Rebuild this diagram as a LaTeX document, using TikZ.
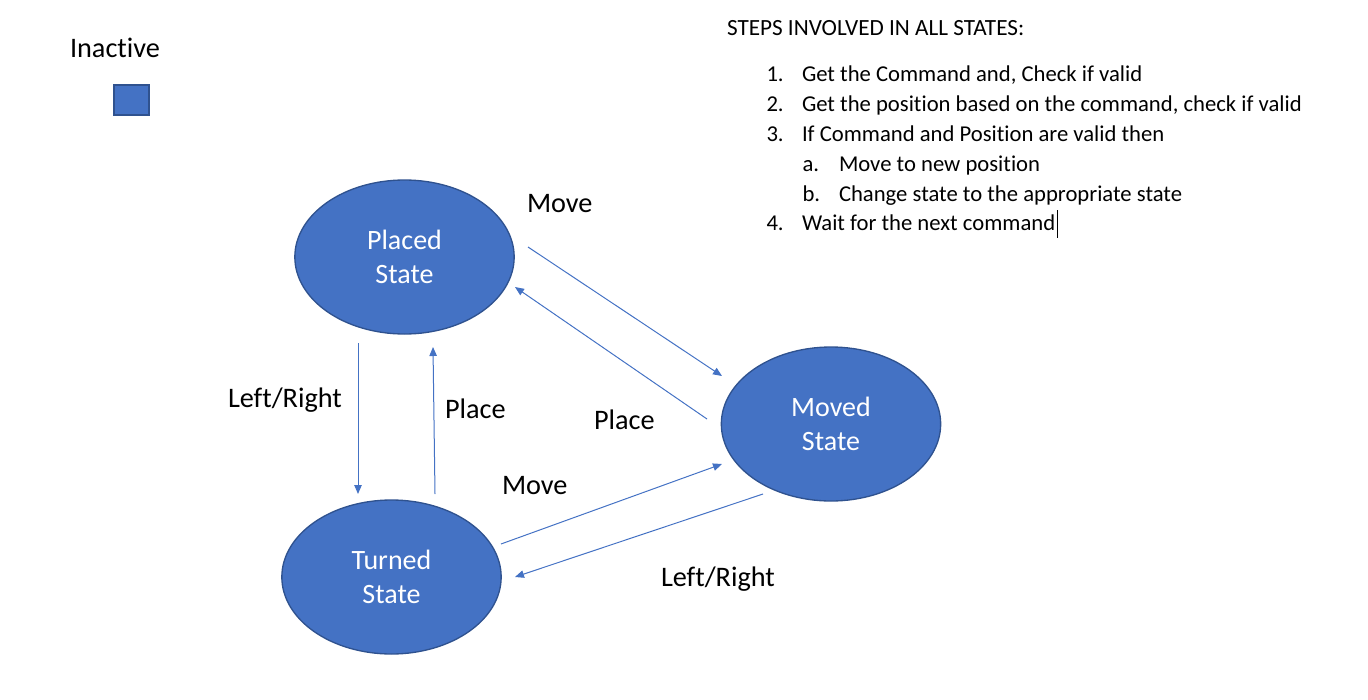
\documentclass[tikz,border=0pt]{standalone}
\usepackage{fontspec}
\setmainfont[Ligatures={NoCommon}]{Carlito}
\usetikzlibrary{shapes.geometric,arrows.meta}
\definecolor{obl}{HTML}{4472C4}
\definecolor{obd}{HTML}{2F528F}
\begin{document}
\begin{tikzpicture}[x=0.75pt,y=-0.75pt,
  statenode/.style={ellipse, draw=obd, line width=1pt, fill=obl, text=white,
    minimum width=164.5pt, minimum height=115.5pt, inner sep=0pt, outer sep=0pt,
    align=center, font=\fontsize{21}{25.5}\selectfont},
  lbl/.style={anchor=base west, inner sep=0pt, outer sep=0pt, font=\fontsize{21.2}{25.5}\selectfont},
  steptxt/.style={anchor=base west, inner sep=0pt, outer sep=0pt, font=\fontsize{17}{20}\selectfont},
  arr/.style={draw=obl, line width=0.75pt, -{Triangle[length=6.75pt,width=5.6pt]}}
]
\useasboundingbox (0,0) rectangle (1368,700);

% legend
\node[lbl] (inact) at (70,57) {Inactive};
\node[draw=obd, fill=obl, line width=1.1pt, minimum width=26pt, minimum height=22.5pt, inner sep=0pt] (sq) at (131.5,100) {};

% states
\node[statenode] (p) at (404.5,257) {Placed\\State};
\node[statenode] (m) at (831,424) {Moved\\State};
\node[statenode] (t) at (391.5,577) {Turned\\State};

% connector end points
\coordinate (pm1) at (528,247);  \coordinate (pm2) at (722,376);
\coordinate (mp1) at (707,419);  \coordinate (mp2) at (515,287);
\coordinate (pt1) at (358,343);  \coordinate (pt2) at (358,494);
\coordinate (tp1) at (435,494);  \coordinate (tp2) at (433,347);
\coordinate (tm1) at (501,544);  \coordinate (tm2) at (722,464);
\coordinate (mt1) at (763,494);  \coordinate (mt2) at (515,577);

\draw[arr] (pm1) -- (pm2);
\draw[arr] (mp1) -- (mp2);
\draw[arr] (pt1) -- (pt2);
\draw[arr] (tp1) -- (tp2);
\draw[arr] (tm1) -- (tm2);
\draw[arr] (mt1) -- (mt2);

% connector labels
\node[lbl] (l1) at (527,212) {Move};
\node[lbl] (l2) at (228,407) {Left/Right};
\node[lbl] (l3) at (445,418) {Place};
\node[lbl] (l4) at (594,429) {Place};
\node[lbl] (l5) at (502,494) {Move};
\node[lbl] (l6) at (661,586) {Left/Right};

% steps
\node[steptxt, font=\fontsize{17.4}{20}\selectfont] (hd) at (727,35.5) {STEPS INVOLVED IN ALL STATES:};
\node[steptxt] (n1) at (766.5,81.3) {1.};
\node[steptxt] (s1) at (802,81.3) {Get the Command and, Check if valid};
\node[steptxt] (n2) at (766.5,111) {2.};
\node[steptxt] (s2) at (802,111) {Get the position based on the command, check if valid};
\node[steptxt] (n3) at (766.5,141) {3.};
\node[steptxt] (s3) at (802,141) {If Command and Position are valid then};
\node[steptxt] (na) at (802.5,171) {a.};
\node[steptxt] (sa) at (839,171) {Move to new position};
\node[steptxt] (nb) at (802.5,201) {b.};
\node[steptxt] (sb) at (839,201) {Change state to the appropriate state};
\node[steptxt] (n4) at (766.5,230.7) {4.};
\node[steptxt] (s4) at (802,230.7) {Wait for the next command};
\draw[line width=0.75pt] ([xshift=1.5pt]s4.base east) ++(0,7) -- ++(0,-28);
\end{tikzpicture}
\end{document}
